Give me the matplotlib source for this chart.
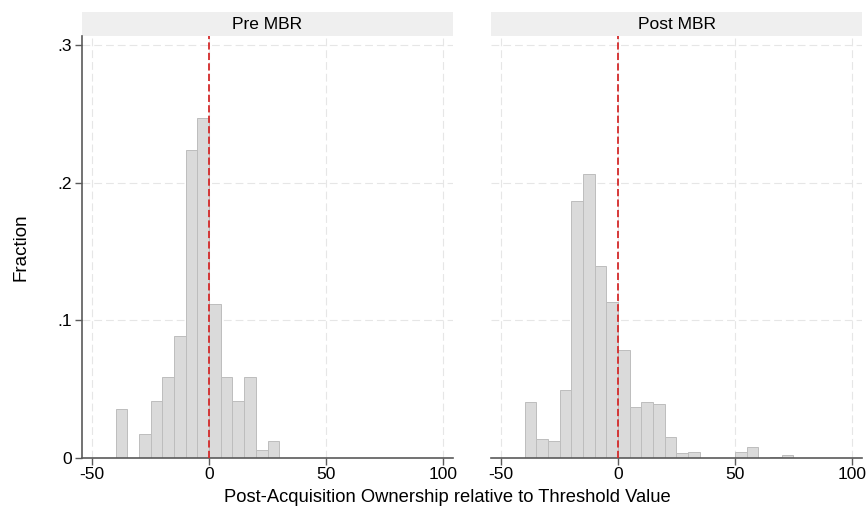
import matplotlib
matplotlib.use('Agg')
from matplotlib import pyplot as plt
from matplotlib.patches import Rectangle

plt.rcParams['font.family'] = ['Liberation Sans', 'DejaVu Sans']

# histogram bins (left edges, width 5) and fractions
bin_width = 5
pre_bins = [-40, -35, -30, -25, -20, -15, -10, -5, 0, 5, 10, 15, 20, 25]
pre_frac = [0.0353, 0.0, 0.0176, 0.0412, 0.0588, 0.0882, 0.2235, 0.2471,
            0.1118, 0.0588, 0.0412, 0.0588, 0.0059, 0.0118]

post_bins = [-40, -35, -30, -25, -20, -15, -10, -5, 0, 5, 10, 15, 20,
             25, 30, 35, 40, 45, 50, 55, 60, 65, 70]
post_frac = [0.0404, 0.0136, 0.0121, 0.0489, 0.1867, 0.2060, 0.1395, 0.1131,
             0.0782, 0.0368, 0.0404, 0.0390, 0.0153, 0.0034, 0.0041, 0.0,
             0.0, 0.0, 0.0044, 0.0078, 0.0, 0.0008, 0.0022]

panels = ['Pre MBR', 'Post MBR']
xticks = [-50, 0, 50, 100]
yticks = [0, 0.1, 0.2, 0.3]
ytick_labels = ['0', '.1', '.2', '.3']
threshold = 0

W, H = 867, 512
fig = plt.figure(figsize=(W / 100, H / 100), dpi=100)
ax_top = 1 - 36 / H
ax_bot = 1 - 457.7 / H
ax1 = fig.add_axes([82 / W, ax_bot, (453 - 82) / W, ax_top - ax_bot])
ax2 = fig.add_axes([491 / W, ax_bot, (862 - 491) / W, ax_top - ax_bot])

axis_col = '#5a5a5a'
for ax, title, bins, frac in [(ax1, panels[0], pre_bins, pre_frac),
                              (ax2, panels[1], post_bins, post_frac)]:
    ax.set_xlim(-54.4, 104.4)
    ax.set_ylim(0, 0.3067)
    for gx in xticks:
        ax.axvline(gx, color='#e6e6e6', lw=0.8, dashes=(7, 3.6), zorder=0)
    for gy in yticks[1:]:
        ax.axhline(gy, color='#e6e6e6', lw=0.8, dashes=(7, 3.6), zorder=0)
    ax.bar(bins, frac, width=bin_width, align='edge', color='#dadada',
           edgecolor='#bdbdbd', linewidth=0.7, zorder=2)
    ax.axvline(threshold, color='#d42a2a', lw=1.3, dashes=(4, 1.8), zorder=3)

    for s in ['top', 'right']:
        ax.spines[s].set_visible(False)
    ax.spines['bottom'].set_color(axis_col)
    ax.spines['bottom'].set_linewidth(1.2)
    ax.set_xticks(xticks)
    ax.set_xticklabels([str(t) for t in xticks])
    ax.tick_params(axis='x', length=5, width=1, color=axis_col,
                   labelsize=12.5, pad=2)

    # header strip
    strip_h = 24 / (457.7 - 36)
    ax.add_patch(Rectangle((0, 1), 1, strip_h, transform=ax.transAxes,
                           facecolor='#efefef', edgecolor='none', clip_on=False))
    ax.text(0.5, 1 + strip_h / 2, title, transform=ax.transAxes,
            ha='center', va='center', fontsize=12.5)

ax1.spines['left'].set_color(axis_col)
ax1.spines['left'].set_linewidth(1.2)
ax1.set_yticks(yticks)
ax1.set_yticklabels(ytick_labels)
ax1.tick_params(axis='y', length=5, width=1, color=axis_col, labelsize=12.5, pad=2)
ax1.set_ylabel('Fraction', fontsize=13.5, labelpad=20)

ax2.spines['left'].set_visible(False)
ax2.set_yticks([])

fig.text(447.5 / W, 1 - 497 / H, 'Post-Acquisition Ownership relative to Threshold Value',
         ha='center', va='center', fontsize=13.2)

plt.savefig('out.png', dpi=100)
